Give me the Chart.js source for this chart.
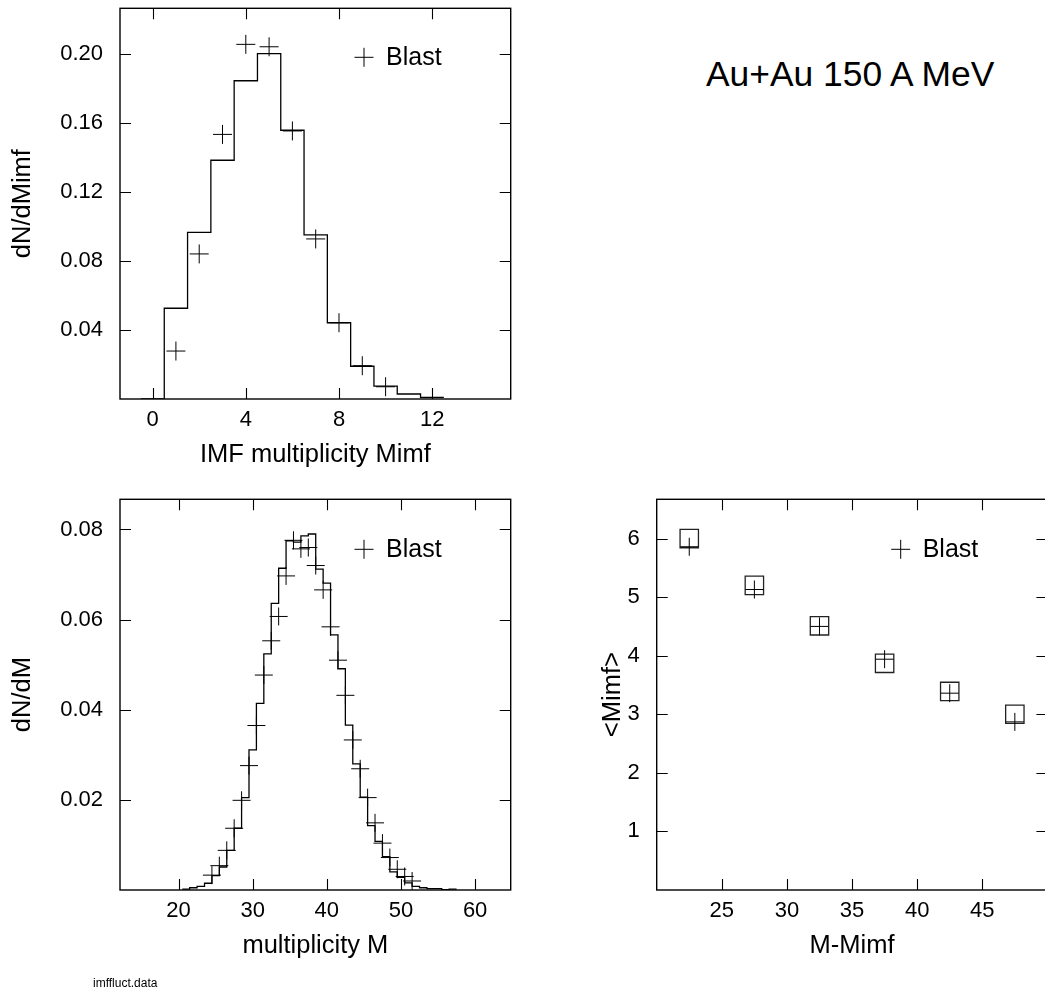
<!DOCTYPE html>
<html>
<head>
<meta charset="utf-8">
<script src="https://cdn.jsdelivr.net/npm/chart.js@4.4.1/dist/chart.umd.min.js"></script>
<style>
  html, body { margin: 0; padding: 0; background: #fff; }
  #page { position: relative; width: 1045px; height: 994px; overflow: hidden;
          font-family: "Liberation Sans", Arial, sans-serif; color: #000; }
  canvas { position: absolute; }
  #title { position: absolute; left: 706px; top: 57px; font-size: 35.4px; line-height: 1; white-space: nowrap; }
  #file { position: absolute; left: 93px; top: 977px; font-size: 12px; line-height: 1; white-space: nowrap; }
</style>
</head>
<body>
<div id="page">
  <canvas id="chartMimf" width="530" height="480" style="left:0;top:0"></canvas>
  <canvas id="chartM" width="530" height="504" style="left:0;top:490px"></canvas>
  <canvas id="chartMean" width="490" height="504" style="left:560px;top:490px"></canvas>
  <div id="title">Au+Au 150 A MeV</div>
  <div id="file">imffluct.data</div>
</div>
<script>
// IMF multiplicity distribution (histogram = model, crosses = Blast)
var mimfBins = [0, 1, 2, 3, 4, 5, 6, 7, 8, 9, 10, 11, 12];
var mimfHist = [0, 0.0526, 0.0966, 0.1384, 0.1845, 0.2002, 0.1558, 0.0951, 0.0442, 0.0190, 0.0075, 0.0029, 0.0010];
var mimfBlastX = [1, 2, 3, 4, 5, 6, 7, 8, 9, 10];
var mimfBlast = [0.0278, 0.0841, 0.1534, 0.2056, 0.2042, 0.1554, 0.0928, 0.0442, 0.0193, 0.0071];

// total multiplicity distribution
var mBins = [21, 22, 23, 24, 25, 26, 27, 28, 29, 30, 31, 32, 33, 34, 35, 36, 37, 38, 39,
             40, 41, 42, 43, 44, 45, 46, 47, 48, 49, 50, 51, 52, 53, 54, 55, 56, 57];
var mHist = [0.0002, 0.0005, 0.0008, 0.0015, 0.0032, 0.0051, 0.0088, 0.0137, 0.0205, 0.0311,
             0.0414, 0.0524, 0.0636, 0.0714, 0.0775, 0.0772, 0.0786, 0.0790, 0.0712, 0.0681,
             0.0566, 0.0491, 0.0366, 0.0280, 0.0206, 0.0143, 0.0108, 0.0074, 0.0040, 0.0028,
             0.0016, 0.0008, 0.0005, 0.0003, 0.0003, 0.0001, 0.0002];
var mBlastX = [24.5, 25.5, 26.5, 27.5, 28.5, 29.5, 30.5, 31.5, 32.5, 33.5, 34.5, 35.5, 36.5, 37.5,
               38.5, 39.5, 40.5, 41.5, 42.5, 43.5, 44.5, 45.5, 46.5, 47.5, 48.5, 49.5, 50.5, 51.5];
var mBlast = [0.0033, 0.0054, 0.0088, 0.0137, 0.0199, 0.0276, 0.0365, 0.0477, 0.0553, 0.0607,
              0.0697, 0.0776, 0.0757, 0.0760, 0.0720, 0.0666, 0.0584, 0.0510, 0.0432, 0.0333,
              0.0269, 0.0205, 0.0149, 0.0104, 0.0072, 0.0046, 0.0030, 0.0020];

// <Mimf> versus M-Mimf
var meanX = [22.5, 27.5, 32.5, 37.5, 42.5, 47.5];
var meanModel = [6.0, 5.2, 4.51, 3.87, 3.39, 3.0];
var meanBlast = [5.86, 5.13, 4.5, 3.94, 3.36, 2.87];

// tick labels
var mimfXLabels = [0, 4, 8, 12];
var mimfYLabels = [0.04, 0.08, 0.12, 0.16, 0.20];
var mXLabels = [20, 30, 40, 50, 60];
var mYLabels = [0.02, 0.04, 0.06, 0.08];
var meanXLabels = [25, 30, 35, 40, 45];
var meanYLabels = [1, 2, 3, 4, 5, 6];

Chart.defaults.font.family = '"Liberation Sans", Arial, sans-serif';
Chart.defaults.color = '#000';

function points(xs, ys) {
  return xs.map(function (x, i) { return {x: x, y: ys[i]}; });
}

// bin edges for a stepped line, one bin = one unit
function steps(bins, vals) {
  var pts = bins.map(function (b, i) { return {x: b - 0.5, y: vals[i]}; });
  pts.push({x: bins[bins.length - 1] + 0.5, y: vals[vals.length - 1]});
  return pts;
}

function inside(s, v) {
  var eps = (s.max - s.min) * 1e-6;
  return v > s.min + eps && v < s.max - eps;
}

// box round the plot with inward ticks on all four sides
var frameTicks = {
  id: 'frameTicks',
  afterDatasetsDraw: function (chart) {
    var ctx = chart.ctx, a = chart.chartArea, sx = chart.scales.x, sy = chart.scales.y;
    var len = 11;
    ctx.save();
    ctx.strokeStyle = '#000';
    ctx.lineWidth = 1.4;
    ctx.strokeRect(a.left, a.top, a.right - a.left, a.bottom - a.top);
    ctx.lineWidth = 1.1;
    ctx.beginPath();
    sx.ticks.forEach(function (t) {
      if (!inside(sx, t.value)) return;
      var px = Math.round(sx.getPixelForValue(t.value)) + 0.5;
      ctx.moveTo(px, a.bottom); ctx.lineTo(px, a.bottom - len);
      ctx.moveTo(px, a.top); ctx.lineTo(px, a.top + len);
    });
    sy.ticks.forEach(function (t) {
      if (!inside(sy, t.value)) return;
      var py = Math.round(sy.getPixelForValue(t.value)) + 0.5;
      ctx.moveTo(a.left, py); ctx.lineTo(a.left + len, py);
      ctx.moveTo(a.right, py); ctx.lineTo(a.right - len, py);
    });
    ctx.stroke();
    ctx.restore();
  }
};

// "+ Blast" key inside the plot
var blastKey = {
  id: 'blastKey',
  afterDraw: function (chart, args, opts) {
    var ctx = chart.ctx, a = chart.chartArea;
    var cx = a.left + opts.dx, cy = a.top + opts.dy;
    ctx.save();
    ctx.strokeStyle = '#000';
    ctx.lineWidth = 1;
    ctx.beginPath();
    ctx.moveTo(cx - 9.5, cy); ctx.lineTo(cx + 9.5, cy);
    ctx.moveTo(cx, cy - 9.5); ctx.lineTo(cx, cy + 9.5);
    ctx.stroke();
    ctx.fillStyle = '#000';
    ctx.font = '25px "Liberation Sans", Arial, sans-serif';
    ctx.textBaseline = 'middle';
    ctx.fillText('Blast', cx + 22, cy + 1);
    ctx.restore();
  }
};

function axis(o, dir) {
  return {
    type: 'linear',
    min: o.min,
    max: o.max,
    afterFit: function (s) {
      if (dir === 'x') s.height = o.size; else s.width = o.size;
      // the frame is placed by hand, so no extra room for edge labels
      s.paddingTop = 0; s.paddingBottom = 0; s.paddingLeft = 0; s.paddingRight = 0;
    },
    grid: {display: false, drawTicks: false},
    border: {display: false},
    ticks: {
      stepSize: o.step,
      includeBounds: false,
      autoSkip: false,
      maxRotation: 0,
      maxTicksLimit: 200,
      padding: dir === 'x' ? 8 : 17,
      font: {size: 22},
      callback: function (v) {
        if (!inside(this, v)) return null;
        var hit = o.labels.filter(function (l) { return Math.abs(l - v) < 1e-9; });
        return hit.length ? o.fmt(hit[0]) : null;
      }
    },
    title: {display: true, text: o.title, font: {size: 25.5}, padding: o.titlePad}
  };
}

function panel(id, o) {
  return new Chart(document.getElementById(id), {
    type: 'scatter',
    data: {datasets: o.datasets},
    options: {
      responsive: false,
      animation: false,
      events: [],
      layout: {padding: o.pad, autoPadding: false},
      plugins: {legend: {display: false}, tooltip: {enabled: false}, blastKey: o.key},
      scales: {x: axis(o.x, 'x'), y: axis(o.y, 'y')}
    },
    plugins: [frameTicks, blastKey]
  });
}

function histSet(data) {
  return {type: 'line', data: data, stepped: true, borderColor: '#000', borderWidth: 1.3,
          pointRadius: 0, fill: false, order: 2};
}
function crossSet(data, r) {
  return {data: data, pointStyle: 'cross', pointRadius: r, pointBorderColor: '#000',
          pointBorderWidth: 1, showLine: false, order: 1};
}
function fix(n) { return function (v) { return v.toFixed(n); }; }

panel('chartMimf', {
  pad: {left: 0, top: 8.3, right: 19.3, bottom: 0},
  key: {dx: 244, dy: 49},
  x: {min: -1.4, max: 15.37, step: 2, labels: mimfXLabels, fmt: fix(0), size: 81,
      title: 'IMF multiplicity Mimf', titlePad: {top: 0, bottom: 9.6}},
  y: {min: 0, max: 0.2265, step: 0.02, labels: mimfYLabels, fmt: fix(2), size: 120,
      title: 'dN/dMimf', titlePad: {top: 7.2, bottom: 0}},
  datasets: [histSet(steps(mimfBins, mimfHist)), crossSet(points(mimfBlastX, mimfBlast), 9.5)]
});

panel('chartM', {
  pad: {left: 0, top: 9.3, right: 19.3, bottom: 0},
  key: {dx: 244, dy: 50},
  x: {min: 12.1, max: 64.8, step: 5, labels: mXLabels, fmt: fix(0), size: 104,
      title: 'multiplicity M', titlePad: {top: 0, bottom: 32.3}},
  y: {min: 0, max: 0.0867, step: 0.01, labels: mYLabels, fmt: fix(2), size: 120,
      title: 'dN/dM', titlePad: {top: 7.2, bottom: 0}},
  datasets: [histSet(steps(mBins, mHist)), crossSet(points(mBlastX, mBlast), 9)]
});

panel('chartMean', {
  pad: {left: 0, top: 9.3, right: 2.6, bottom: 0},
  key: {dx: 244, dy: 50},
  x: {min: 20, max: 50, step: 2.5, labels: meanXLabels, fmt: fix(0), size: 104,
      title: 'M-Mimf', titlePad: {top: 0, bottom: 32.3}},
  y: {min: 0, max: 6.67, step: 0.5, labels: meanYLabels, fmt: fix(0), size: 96.7,
      title: '<Mimf>', titlePad: {top: 38, bottom: 0}},
  datasets: [
    crossSet(points(meanX, meanBlast), 9),
    {data: points(meanX, meanModel), pointStyle: 'rect', pointRadius: 13, pointBorderColor: '#222',
     pointBackgroundColor: 'rgba(0,0,0,0)', pointBorderWidth: 1.3, showLine: false, order: 2}
  ]
});
</script>
</body>
</html>
